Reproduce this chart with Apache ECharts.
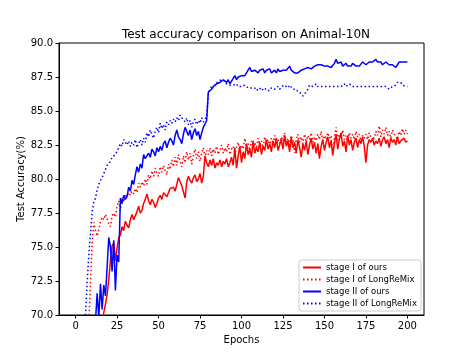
<!DOCTYPE html>
<html>
<head>
<meta charset="utf-8">
<script src="https://cdn.jsdelivr.net/npm/echarts@6/dist/echarts.min.js"></script>
<style>
  html, body { margin: 0; padding: 0; background: #fff; }
  #chart { width: 472px; height: 354px; }
</style>
</head>
<body>
<div id="chart"></div>
<script>
// epochs 1..200, values (below 70 is clipped off the axis)
const epochs = Array.from({ length: 200 }, (_, i) => i + 1);

const stage1Ours = [
  45, 50, 53, 56, 58, 60, 62, 63, 64, 65,
  66, 66.8, 67.5, 68.2, 68.8, 69.4, 70.2, 70.8, 71.5, 72.6,
  74.0, 75.1, 75.3, 74.0, 74.9, 75.7, 75.9, 76.5, 76.2, 76.9,
  76.6, 76.4, 77.0, 77.4, 77.0, 77.1, 77.6, 78.0, 77.5, 77.7,
  78.2, 78.5, 78.9, 78.4, 78.1, 78.5, 78.3, 77.9, 78.2, 78.6,
  78.8, 78.5, 79.0, 78.9, 78.7, 79.0, 79.3, 79.2, 79.4, 79.1,
  79.6, 80.1, 79.8, 79.5, 79.6, 78.6, 79.8, 80.2, 79.9, 79.7,
  80.1, 80.3, 79.8, 80.0, 80.4, 79.7, 80.2, 81.7, 81.2, 80.9,
  81.4, 81.0, 81.5, 80.8, 81.2, 81.0, 81.4, 80.9, 81.3, 81.1,
  81.5, 80.9, 81.2, 81.6, 81.0, 82.3, 80.8, 81.7, 82.4, 81.2,
  82.0, 81.5, 82.6, 81.8, 82.2, 81.6, 82.8, 81.9, 82.3, 82.0,
  82.7, 81.8, 82.4, 82.1, 82.9, 82.2, 82.6, 82.0, 82.8, 82.3,
  83.0, 82.1, 82.5, 82.9, 82.2, 83.2, 82.4, 82.8, 82.0, 83.1,
  82.3, 82.7, 81.9, 82.9, 82.3, 81.6, 82.6, 82.1, 82.8, 81.8,
  82.5, 83.0, 82.2, 82.7, 81.9, 82.6, 81.5, 82.4, 82.9, 82.1,
  82.7, 83.1, 82.3, 82.8, 81.8, 82.6, 83.3, 82.2, 82.9, 83.4,
  82.4, 82.8, 82.0, 83.2, 82.5, 82.9, 82.1, 82.7, 83.0, 82.3,
  82.9, 82.6, 83.1, 82.4, 81.2, 82.5, 82.9, 82.7, 83.0, 82.5,
  82.8, 82.6, 83.0, 82.4, 82.9, 83.1, 82.6, 82.9, 82.3, 83.0,
  82.7, 82.9, 82.5, 83.1, 82.6, 82.8, 82.9, 83.0, 82.7, 82.8
];

const stage1LongReMix = [
  45, 50, 54, 58, 61, 64, 67, 69.5, 72.5, 75.3,
  76.8, 76.2, 75.8, 76.3, 76.9, 77.2, 77.0, 77.4, 77.1, 76.7,
  76.5, 77.3, 77.5, 77.2, 78.0, 78.4, 77.7, 78.6, 78.3, 78.9,
  78.7, 79.0, 78.8, 79.1, 78.9, 79.3, 79.0, 79.7, 79.4, 79.8,
  79.5, 80.0, 79.6, 80.3, 80.0, 80.6, 80.2, 80.8, 80.4, 80.2,
  80.9, 80.5, 81.0, 80.6, 80.3, 81.1, 80.7, 81.4, 80.9, 81.6,
  81.0, 81.8, 81.3, 80.9, 81.7, 81.2, 82.0, 81.4, 81.9, 81.1,
  81.7, 82.2, 81.5, 82.0, 81.3, 81.9, 82.3, 81.6, 82.1, 81.8,
  82.3, 81.7, 82.2, 81.9, 82.4, 81.8, 82.1, 82.5, 81.9, 82.3,
  82.0, 82.6, 81.8, 82.2, 82.4, 81.9, 82.3, 82.7, 82.0, 82.5,
  82.2, 83.0, 82.3, 82.6, 82.1, 82.8, 82.4, 82.7, 82.2, 83.0,
  82.5, 82.8, 82.3, 83.1, 82.6, 82.9, 82.4, 83.0, 82.7, 83.2,
  82.5, 82.9, 82.6, 83.1, 82.8, 83.4, 82.7, 83.0, 82.5, 83.2,
  82.8, 81.9, 82.9, 83.3, 82.7, 83.1, 82.6, 83.3, 82.8, 83.2,
  82.9, 83.4, 82.7, 83.1, 82.8, 83.3, 82.9, 83.5, 82.8, 83.2,
  82.9, 83.4, 83.0, 83.2, 81.7, 83.1, 83.8, 82.9, 83.3, 83.0,
  83.6, 82.9, 83.2, 82.8, 83.4, 83.0, 83.3, 82.9, 83.5, 83.1,
  83.3, 82.8, 83.2, 83.0, 83.3, 82.9, 83.4, 83.1, 83.2, 83.0,
  83.5, 83.2, 83.9, 83.1, 83.6, 83.3, 83.8, 83.2, 83.5, 83.0,
  83.6, 83.3, 83.4, 82.9, 83.5, 83.2, 83.7, 83.3, 83.6, 83.3
];

const stage2Ours = [
  40, 45, 50, 54, 57, 60, 62, 64, 66, 67.5,
  68.8, 69.6, 71.6, 69.8, 72.3, 70.4, 72.2, 71.4, 73.5, 75.7,
  75.0, 73.2, 75.5, 71.8, 74.4, 73.9, 78.6, 78.2, 78.8, 78.5,
  78.7, 79.4, 79.1, 79.9, 79.6, 80.3, 80.9, 80.5, 81.1, 80.8,
  81.8, 81.5, 81.4, 81.9, 81.6, 82.2, 82.0, 81.7, 82.3, 82.0,
  82.4, 82.1, 82.6, 82.8, 82.3, 82.7, 83.0, 82.8, 82.5, 83.2,
  83.6, 83.1, 82.9, 82.6, 83.3, 83.8, 83.5, 83.2, 83.6, 82.9,
  83.4, 83.7, 83.2, 83.5, 82.9, 83.4, 83.8, 83.7, 84.3, 86.4,
  86.5, 86.6, 86.8, 86.7, 87.0, 86.9, 87.1, 87.0, 87.3, 87.4,
  87.1, 87.3, 87.0, 87.1, 87.4, 87.6, 87.3, 87.5, 87.4, 87.6,
  87.5, 87.6, 87.8, 87.7, 88.2, 87.9, 87.8, 88.0, 87.9, 87.8,
  88.0, 87.9, 88.1, 87.8, 88.0, 87.9, 88.1, 87.8, 87.9, 88.0,
  87.8, 88.1, 87.9, 87.8, 88.0, 87.9, 88.0, 87.9, 88.3, 88.0,
  87.9, 87.8, 87.9, 87.8, 87.8, 88.0, 87.9, 88.1, 88.0, 88.2,
  88.3, 88.1, 88.2, 88.3, 88.2, 88.4, 88.3, 88.4, 88.5, 88.3,
  88.4, 88.3, 88.4, 88.2, 88.3, 88.5, 88.8, 88.5, 88.4, 88.6,
  88.3, 88.4, 88.5, 88.3, 88.4, 88.3, 88.5, 88.4, 88.3, 88.4,
  88.3, 88.4, 88.6, 88.5, 88.4, 88.5, 88.6, 88.5, 88.6, 88.7,
  88.8, 88.6, 88.5, 88.6, 88.4, 88.5, 88.6, 88.5, 88.4, 88.5,
  88.4, 88.3, 88.2, 88.4, 88.6, 88.5, 88.6, 88.5, 88.6, 88.6
];

const stage2LongReMix = [
  50, 55, 60, 64, 67.5, 70.0, 72.5, 74.5, 76.0, 77.6,
  78.3, 78.6, 79.2, 79.6, 79.9, 80.1, 80.4, 80.7, 81.0, 80.9,
  81.3, 81.6, 81.7, 81.8, 81.9, 82.3, 82.6, 82.4, 82.9, 82.7,
  82.5, 82.8, 82.4, 82.7, 82.5, 82.9, 82.3, 82.6, 82.9, 82.5,
  83.0, 82.7, 83.4, 83.1, 83.6, 83.3, 83.0, 83.5, 83.8, 83.4,
  84.1, 83.7, 84.0, 83.6, 84.2, 84.0, 84.3, 84.1, 84.4, 84.2,
  84.5, 84.3, 84.7, 84.5, 84.4, 84.2, 84.5, 84.0, 84.3, 83.8,
  84.2, 84.4, 84.0, 84.3, 84.1, 84.5, 84.2, 84.4, 84.6, 86.3,
  86.6, 86.8, 86.7, 86.9, 87.0, 87.2, 87.1, 87.3, 87.4, 87.2,
  87.0, 87.1, 86.9, 87.0, 86.9, 86.8, 87.0, 86.8, 86.9, 86.8,
  86.7, 86.9, 86.8, 86.7, 86.8, 86.7, 86.6, 86.7, 86.5, 86.6,
  86.7, 86.5, 86.6, 86.7, 86.5, 86.6, 86.5, 86.7, 86.8, 86.6,
  86.7, 86.8, 86.6, 86.8, 86.7, 86.9, 86.8, 86.7, 86.9, 86.8,
  86.6, 86.5, 86.6, 86.4, 86.5, 86.3, 86.1, 86.2, 86.4, 86.6,
  86.9, 87.0, 86.8, 86.9, 87.0, 86.8, 86.9, 86.8, 86.9, 86.8,
  86.7, 86.8, 86.9, 86.8, 86.7, 86.8, 86.9, 86.8, 86.9, 86.8,
  86.9, 87.0, 86.8, 86.9, 87.0, 86.9, 86.8, 86.9, 86.8, 86.7,
  86.8, 86.9, 86.8, 86.7, 86.8, 86.9, 86.8, 86.7, 86.8, 86.7,
  86.8, 86.9, 86.8, 86.7, 86.8, 86.7, 86.8, 86.7, 86.6, 86.7,
  86.8, 86.7, 86.9, 87.1, 87.0, 87.1, 86.9, 87.0, 86.8, 86.8
];

const xTicks = [0, 25, 50, 75, 100, 125, 150, 175, 200];

const font = "DejaVu Sans";
const dotted = [1.5, 2.5];

const toPairs = (vals) => epochs.map((e, i) => [e, vals[i]]);

const chart = echarts.init(document.getElementById("chart"), null, { renderer: "canvas" });

const lineSeries = (name, vals, color, type) => ({
  name,
  type: "line",
  data: toPairs(vals),
  symbol: "none",
  showSymbol: false,
  clip: true,
  animation: false,
  lineStyle: { color, width: 1.5, type, cap: "butt" },
  itemStyle: { color }
});

chart.setOption({
  animation: false,
  backgroundColor: "#fff",
  title: {
    text: "Test accuracy comparison on Animal-10N",
    left: 241,
    textAlign: "center",
    top: 24,
    textStyle: { fontFamily: font, fontSize: 12, fontWeight: "normal", color: "#000" }
  },
  grid: {
    left: 59, right: 48, top: 43, bottom: 39,
    show: true, borderColor: "#000", borderWidth: 1, backgroundColor: "transparent"
  },
  xAxis: {
    type: "value",
    min: -10,
    max: 210,
    name: "Epochs",
    nameLocation: "middle",
    nameGap: 20,
    nameMoveOverlap: false,
    nameTextStyle: { fontFamily: font, fontSize: 10, color: "#000" },
    axisLine: { show: true, onZero: false, lineStyle: { color: "#000", width: 1 } },
    axisTick: { show: true, length: 3.5, lineStyle: { color: "#000" }, customValues: xTicks },
    axisLabel: { fontFamily: font, fontSize: 10, color: "#000", margin: 6, customValues: xTicks },
    splitLine: { show: false }
  },
  yAxis: {
    type: "value",
    min: 70,
    max: 90,
    interval: 2.5,
    name: "Test Accuracy(%)",
    nameLocation: "middle",
    nameGap: 33,
    nameMoveOverlap: false,
    nameTextStyle: { fontFamily: font, fontSize: 10, color: "#000" },
    axisLine: { show: true, onZero: false, lineStyle: { color: "#000", width: 1 } },
    axisTick: { show: true, length: 3.5, lineStyle: { color: "#000" } },
    axisLabel: {
      fontFamily: font, fontSize: 10, color: "#000", margin: 6,
      formatter: (v) => v.toFixed(1)
    },
    splitLine: { show: false }
  },
  legend: {
    orient: "vertical",
    right: 51,
    bottom: 43,
    itemWidth: 18,
    itemHeight: 9,
    itemGap: 3,
    padding: [3, 4, 3, 3],
    backgroundColor: "rgba(255,255,255,0.8)",
    borderColor: "#ccc",
    borderWidth: 1,
    borderRadius: 3,
    itemStyle: { opacity: 0 },
    lineStyle: { width: 2 },
    textStyle: { fontFamily: font, fontSize: 8.5, color: "#000" },
    data: ["stage I of ours", "stage I of LongReMix", "stage II of ours", "stage II of LongReMix"]
  },
  series: [
    lineSeries("stage I of ours", stage1Ours, "#ff0000", "solid"),
    lineSeries("stage I of LongReMix", stage1LongReMix, "#ff0000", dotted),
    lineSeries("stage II of ours", stage2Ours, "#0000ff", "solid"),
    lineSeries("stage II of LongReMix", stage2LongReMix, "#0000ff", dotted)
  ]
});

window.addEventListener("resize", () => chart.resize());
</script>
</body>
</html>
